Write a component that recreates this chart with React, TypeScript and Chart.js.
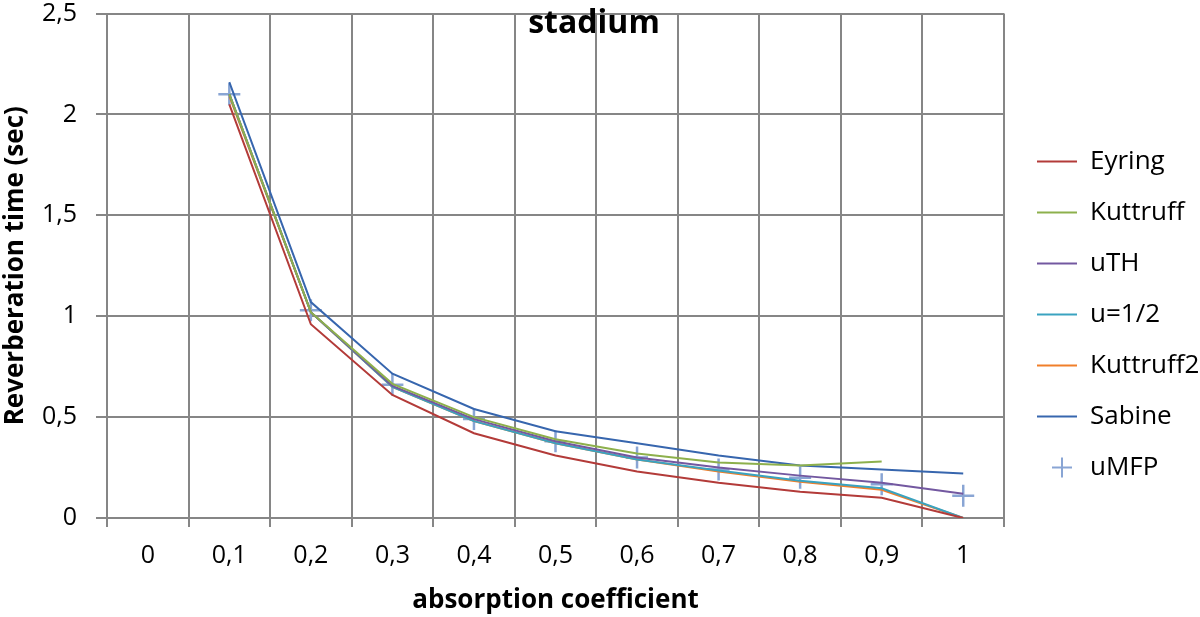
import React, { useEffect, useRef } from "react";
import { Chart, registerables, Plugin } from "chart.js";

Chart.register(...registerables);

// absorption coefficient categories
const categories = ["0", "0,1", "0,2", "0,3", "0,4", "0,5", "0,6", "0,7", "0,8", "0,9", "1"];

// reverberation time (sec) per formula
const eyring = [null, 2.05, 0.96, 0.61, 0.42, 0.31, 0.23, 0.175, 0.13, 0.1, 0.0];
const kuttruff = [null, 2.1, 1.02, 0.665, 0.5, 0.39, 0.32, 0.275, 0.26, 0.28, null];
const uTH = [null, 2.1, 1.02, 0.655, 0.49, 0.38, 0.3, 0.25, 0.21, 0.175, 0.12];
const uHalf = [null, 2.1, 1.02, 0.65, 0.48, 0.37, 0.29, 0.235, 0.185, 0.147, 0.0];
const kuttruff2 = [null, 2.09, 1.02, 0.65, 0.48, 0.37, 0.29, 0.23, 0.18, 0.14, 0.0];
const sabine = [null, 2.16, 1.07, 0.715, 0.54, 0.43, 0.37, 0.31, 0.26, 0.24, 0.22];
const uMFP = [null, 2.1, 1.03, 0.66, 0.49, 0.38, 0.3, 0.24, 0.2, 0.167, 0.11];

const yTicks = [0, 0.5, 1, 1.5, 2, 2.5];

const FONT = "'Open Sans', 'Liberation Sans', sans-serif";
const GRID = "#868686";

const lineSeries = [
  { label: "Eyring", data: eyring, color: "#B33B39" },
  { label: "Kuttruff", data: kuttruff, color: "#8DB04C" },
  { label: "uTH", data: uTH, color: "#7358A0" },
  { label: "u=1/2", data: uHalf, color: "#3AA3C0" },
  { label: "Kuttruff2", data: kuttruff2, color: "#F07F2A" },
  { label: "Sabine", data: sabine, color: "#3766AE" },
];
const crossColor = "#89A5D4";

// legend symbols (48px wide slot)
function lineIcon(color: string) {
  const c = document.createElement("canvas");
  c.width = 48;
  c.height = 4;
  const g = c.getContext("2d")!;
  g.fillStyle = color;
  g.fillRect(8, 1, 40, 2);
  return c;
}
function crossIcon(color: string) {
  const c = document.createElement("canvas");
  c.width = 48;
  c.height = 22;
  const g = c.getContext("2d")!;
  g.strokeStyle = color;
  g.lineWidth = 2;
  g.beginPath();
  g.moveTo(23, 11);
  g.lineTo(43, 11);
  g.moveTo(33, 1);
  g.lineTo(33, 21);
  g.stroke();
  return c;
}

const titlePlugin: Plugin<"line"> = {
  id: "insideTitle",
  afterDatasetsDraw(chart) {
    const ctx = chart.ctx;
    ctx.save();
    ctx.font = `bold 32px ${FONT}`;
    ctx.fillStyle = "#000";
    ctx.textAlign = "center";
    ctx.textBaseline = "middle";
    ctx.fillText("stadium", 594, 24);
    ctx.restore();
  },
};

const App: React.FC = () => {
  const canvasRef = useRef<HTMLCanvasElement>(null);
  const chartRef = useRef<Chart<"line"> | null>(null);

  useEffect(() => {
    if (!canvasRef.current) return;
    const ctx = canvasRef.current.getContext("2d");
    if (!ctx) return;

    if (chartRef.current) chartRef.current.destroy();

    const icons = [...lineSeries.map((s) => lineIcon(s.color)), crossIcon(crossColor)];

    chartRef.current = new Chart(ctx, {
      type: "line",
      data: {
        labels: categories,
        datasets: [
          ...lineSeries.map((s) => ({
            label: s.label,
            data: s.data,
            borderColor: s.color,
            backgroundColor: s.color,
            borderWidth: 2,
            pointRadius: 0,
            tension: 0,
          })),
          {
            label: "uMFP",
            data: uMFP,
            showLine: false,
            borderColor: crossColor,
            backgroundColor: crossColor,
            pointStyle: "cross",
            pointRadius: 11,
            pointBorderWidth: 2.5,
          },
        ],
      },
      options: {
        responsive: false,
        animation: false,
        layout: { padding: { top: 12, right: 0, left: 0, bottom: 0 } },
        plugins: {
          title: { display: false },
          tooltip: { enabled: false },
          legend: {
            position: "right",
            maxWidth: 196,
            labels: {
              font: { family: FONT, size: 26 },
              color: "#000",
              usePointStyle: true,
              pointStyleWidth: 48,
              boxHeight: 26,
              padding: 25,
              generateLabels: (chart) =>
                Chart.defaults.plugins.legend.labels
                  .generateLabels(chart)
                  .map((item, i) => ({ ...item, pointStyle: icons[i] as any })),
            },
          },
        },
        scales: {
          x: {
            offset: true,
            afterFit: (scale) => {
              scale.height = 99;
              scale.paddingLeft = 0;
              scale.paddingRight = 0;
            },
            grid: { offset: true, color: GRID, lineWidth: 2, tickLength: 9 },
            border: { color: GRID, width: 2 },
            ticks: { font: { family: FONT, size: 25 }, color: "#000", padding: 14 },
            title: {
              display: true,
              text: "absorption coefficient",
              font: { family: FONT, size: 26, weight: "bold" },
              color: "#000",
              padding: { top: 0, bottom: 1 },
            },
          },
          y: {
            min: 0,
            max: 2.5,
            afterBuildTicks: (axis) => {
              axis.ticks = yTicks.map((v) => ({ value: v }));
            },
            afterFit: (scale) => {
              scale.width = 107;
              scale.paddingTop = 0;
              scale.paddingBottom = 0;
            },
            grid: { color: GRID, lineWidth: 2, tickLength: 11 },
            border: { color: GRID, width: 2 },
            ticks: {
              font: { family: FONT, size: 25 },
              color: "#000",
              padding: 19,
              callback: (v) => String(v).replace(".", ","),
            },
            title: {
              display: true,
              text: "Reverberation time (sec)",
              font: { family: FONT, size: 26, weight: "bold" },
              color: "#000",
              padding: { top: 0, bottom: 0 },
            },
          },
        },
      },
      plugins: [titlePlugin],
    });

    return () => {
      if (chartRef.current) {
        chartRef.current.destroy();
        chartRef.current = null;
      }
    };
  }, []);

  return (
    <div style={{ position: "fixed", left: 0, top: 0, width: 1200, height: 617, background: "#fff" }}>
      <canvas ref={canvasRef} width={1200} height={617} />
    </div>
  );
};

export default App;
